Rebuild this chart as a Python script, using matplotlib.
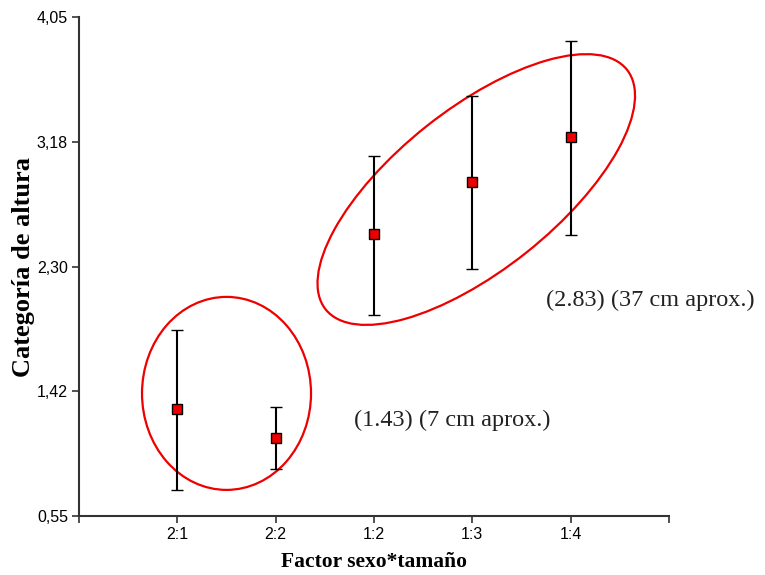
import matplotlib.pyplot as plt
import numpy as np
from matplotlib.patches import Ellipse
from matplotlib.transforms import ScaledTranslation

# categorias del factor sexo*tamaño
categorias = ['2:1', '2:2', '1:2', '1:3', '1:4']
medias = [1.30, 1.10, 2.53, 2.89, 3.21]
limite_sup = [1.855, 1.315, 3.075, 3.495, 3.88]
limite_inf = [0.73, 0.88, 1.96, 2.28, 2.52]
yticks = [0.55, 1.425, 2.30, 3.175, 4.05]
ytick_labels = ['0,55', '1,42', '2,30', '3,18', '4,05']


def main():
    fig = plt.figure(figsize=(7.65, 5.75), dpi=100)
    ax = fig.add_axes([0.1033, 0.1026, 0.7712, 0.8678])

    x = np.arange(1, len(categorias) + 1)
    medias_arr = np.array(medias)
    err = [medias_arr - np.array(limite_inf), np.array(limite_sup) - medias_arr]
    ax.errorbar(x, medias, yerr=err, fmt='s', color='black', ecolor='black',
                markerfacecolor='#ee0000', markeredgecolor='black', markersize=7,
                markeredgewidth=1, elinewidth=1.5, capsize=4.3, capthick=1.5, zorder=3)

    ax.set_xlim(0, 6)
    ax.set_ylim(0.55, 4.05)
    ax.set_xticks(range(0, 7))
    ax.set_xticklabels([''] + categorias + [''])
    ax.set_yticks(yticks)
    ax.set_yticklabels(ytick_labels)

    for side in ['top', 'right']:
        ax.spines[side].set_visible(False)
    for side in ['left', 'bottom']:
        ax.spines[side].set_color('#333333')
        ax.spines[side].set_linewidth(1.5)
    ax.tick_params(direction='out', length=5, width=1.2, color='#333333',
                   labelsize=11.5, pad=3)
    for lbl in ax.get_xticklabels() + ax.get_yticklabels():
        lbl.set_fontfamily('Liberation Sans')

    # elipses que agrupan los niveles (tamaño en pixeles, rotadas)
    px = 1 / fig.dpi
    e1 = Ellipse((0, 0), 169 * px, 193 * px, angle=0, fill=False,
                 edgecolor='#ee0000', linewidth=1.6,
                 transform=fig.dpi_scale_trans + ScaledTranslation(1.50, 1.41, ax.transData))
    e2 = Ellipse((0, 0), 385 * px, 161 * px, angle=38.5, fill=False,
                 edgecolor='#ee0000', linewidth=1.6,
                 transform=fig.dpi_scale_trans + ScaledTranslation(4.04, 2.84, ax.transData))
    ax.add_patch(e1)
    ax.add_patch(e2)

    ax.text(2.80, 1.22, '(1.43) (7 cm aprox.)', fontsize=17.5,
            fontfamily='Liberation Serif', va='center', ha='left', color='#222222')
    ax.text(4.75, 2.06, '(2.83) (37 cm aprox.)', fontsize=17.5,
            fontfamily='Liberation Serif', va='center', ha='left', color='#222222',
            clip_on=False)

    ax.set_xlabel('Factor sexo*tamaño', fontsize=15.5, fontweight='bold',
                  fontfamily='Liberation Serif', labelpad=7)
    ax.set_ylabel('Categoría de altura', fontsize=19, fontweight='bold',
                  fontfamily='Liberation Serif', labelpad=1)

    fig.savefig('out.png', dpi=100)


if __name__ == '__main__':
    main()
